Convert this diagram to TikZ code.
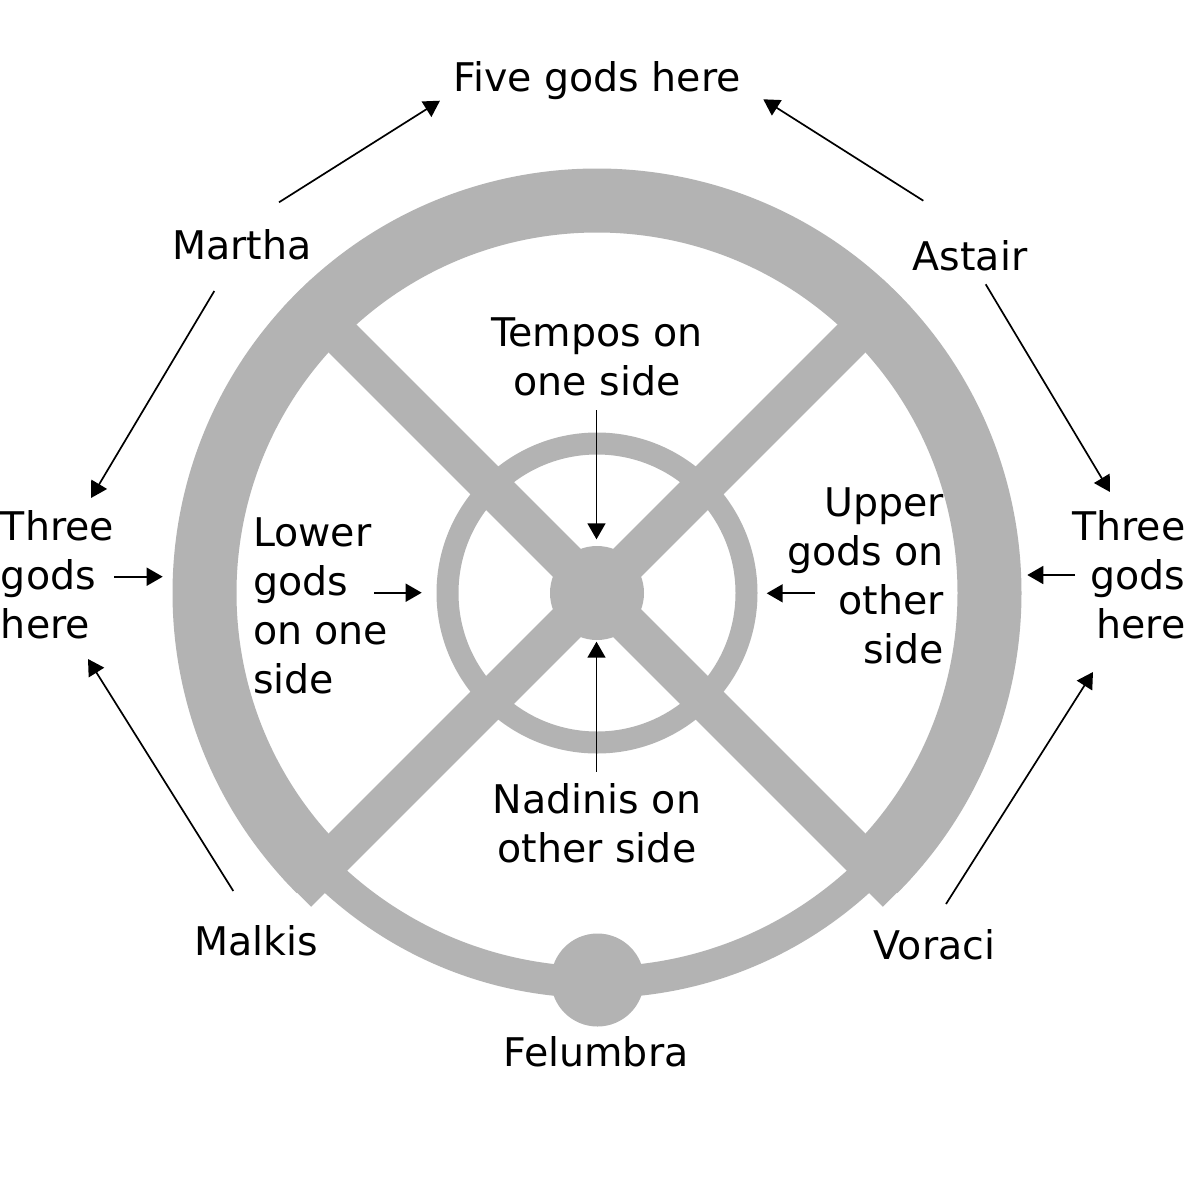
\documentclass[tikz,border=0pt]{standalone}
\usepackage{fontspec}
\setmainfont{DejaVu Sans}
\usetikzlibrary{arrows.meta}
\definecolor{wheelgrey}{HTML}{B3B3B3}
\begin{document}
\begin{tikzpicture}[x=1pt,y=-1pt,
  lbl/.style={font=\fontsize{39.5}{49}\selectfont, inner sep=0pt, outer sep=0pt},
  conn/.style={line width=1.7pt, -{Triangle[length=16pt,width=18pt]}},
  band/.style={draw=wheelgrey, line cap=butt}]
\useasboundingbox[fill=white] (0,0) rectangle (1189,1187);
\coordinate (C) at (597,593);
% wheel
\draw[band, line width=31.5pt] (C) circle[radius=389.25];
\draw[band, line width=64pt] (C) ++(135:392.5) arc[start angle=135, end angle=405, radius=392.5];
\draw[band, line width=39.5pt] (C) ++(135:424) -- ++(-45:848);
\draw[band, line width=39.5pt] (C) ++(45:424) -- ++(225:848);
\draw[band, line width=22pt] (C) circle[radius=149.5];
\node[circle, fill=wheelgrey, minimum size=94pt, inner sep=0pt] (hub) at (C) {};
\node[circle, fill=wheelgrey, minimum size=93pt, inner sep=0pt] (felumbradisc) at (597.5,980) {};
% labels (multi-line nodes: base anchor is the last line's baseline)
\node[lbl, anchor=base] (five) at (597,91) {Five gods here};
\node[lbl, anchor=base] (martha) at (242,259) {Martha};
\node[lbl, anchor=base] (astair) at (970,270) {Astair};
\node[lbl, anchor=base] (malkis) at (256,955) {Malkis};
\node[lbl, anchor=base] (voraci) at (934.5,959) {Voraci};
\node[lbl, anchor=base] (felumbra) at (596,1066) {Felumbra};
\node[lbl, anchor=base west, align=left] (threeL) at (1,638) {Three\\gods\\here};
\node[lbl, anchor=base east, align=right] (threeR) at (1185.5,638) {Three\\gods\\here};
\node[lbl, anchor=base west, align=left] (lower) at (253,693.5) {Lower\\gods\\on one\\side};
\node[lbl, anchor=base east, align=right] (upper) at (944,663) {Upper\\gods on\\other\\side};
\node[lbl, anchor=base, align=center] (tempos) at (597,395) {Tempos on\\one side};
\node[lbl, anchor=base, align=center] (nadinis) at (597,862) {Nadinis on\\other side};
% connector ends
\coordinate (marthaT1) at (279,202.3);
\coordinate (fiveL) at (440,100.7);
\coordinate (astairT1) at (923.3,200.7);
\coordinate (fiveR) at (763.3,99.3);
\coordinate (marthaT2) at (214.3,291);
\coordinate (threeLtop) at (91,498);
\coordinate (astairT2) at (985.7,284.3);
\coordinate (threeRtop) at (1110,492);
\coordinate (malkisT) at (233.3,891);
\coordinate (threeLbot) at (88,659);
\coordinate (voraciT) at (946,904);
\coordinate (threeRbot) at (1093,672);
\coordinate (threeLT) at (114,576.7);
\coordinate (outerL) at (162.7,576.7);
\coordinate (threeRT) at (1075,575);
\coordinate (outerR) at (1027.3,575);
\coordinate (lowerT) at (374.3,592.7);
\coordinate (innerL) at (421.7,592.7);
\coordinate (upperT) at (815,593.3);
\coordinate (innerR) at (766.7,593.3);
\coordinate (temposT) at (596.5,410);
\coordinate (hubN) at (596.5,539.3);
\coordinate (nadinisT) at (596.5,771.7);
\coordinate (hubS) at (596.5,641.7);
% connectors
\draw[conn] (marthaT1) -- (fiveL);
\draw[conn] (astairT1) -- (fiveR);
\draw[conn] (marthaT2) -- (threeLtop);
\draw[conn] (astairT2) -- (threeRtop);
\draw[conn] (malkisT) -- (threeLbot);
\draw[conn] (voraciT) -- (threeRbot);
\draw[conn] (threeLT) -- (outerL);
\draw[conn] (threeRT) -- (outerR);
\draw[conn] (lowerT) -- (innerL);
\draw[conn] (upperT) -- (innerR);
\draw[conn] (temposT) -- (hubN);
\draw[conn] (nadinisT) -- (hubS);
\end{tikzpicture}
\end{document}
